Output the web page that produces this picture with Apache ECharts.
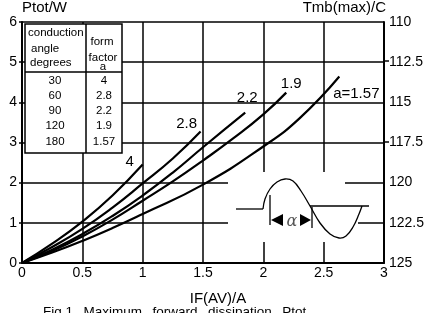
<!DOCTYPE html>
<html>
<head>
<meta charset="utf-8">
<script src="https://cdn.jsdelivr.net/npm/echarts@6/dist/echarts.min.js"></script>
<style>
html,body{margin:0;padding:0;background:#fff;}
#container{width:427px;height:313px;}
</style>
</head>
<body>
<div id="container"></div>
<script>
var dom = document.getElementById("container");
var myChart = echarts.init(dom);
var option;

var FONT = "'Liberation Sans', Arial, sans-serif";

// power curves, IF(AV) [A] vs Ptot [W], one per form factor
var curve4   = [[0,0],[0.25,0.48],[0.5,1.03],[0.75,1.68],[1.0,2.45]];
var curve2_8 = [[0,0],[0.25,0.4],[0.5,0.85],[0.75,1.38],[1.0,1.98],[1.25,2.6],[1.48,3.27]];
var curve2_2 = [[0,0],[0.25,0.33],[0.5,0.72],[0.75,1.17],[1.0,1.68],[1.25,2.25],[1.5,2.88],[1.85,3.74]];
var curve1_9 = [[0,0],[0.25,0.3],[0.5,0.66],[0.75,1.08],[1.0,1.55],[1.25,2.03],[1.5,2.55],[1.75,3.1],[2.0,3.7],[2.19,4.24]];
var curve1_57= [[0,0],[0.25,0.26],[0.5,0.55],[0.75,0.87],[1.0,1.22],[1.5,1.95],[2.0,2.9],[2.3,3.6],[2.63,4.64]];

var curveLabels = ['4', '2.8', '2.2', '1.9', 'a=1.57'];
var labelOffsets = [[-13,-3],[-14,-8],[2,-15],[5,-9],[17,17]];

// table of conduction angle / form factor
var conductionAngles = ['30','60','90','120','180'];
var formFactors = ['4','2.8','2.2','1.9','1.57'];

var captionWords = ['Fig.1', 'Maximum', 'forward', 'dissipation', 'Ptot'];

function curveSeries(data, idx) {
    return {
        type: 'line',
        data: data,
        smooth: true,
        showSymbol: false,
        silent: true,
        lineStyle: {color: '#000', width: 2.2},
        endLabel: {
            show: true,
            formatter: curveLabels[idx],
            distance: 0,
            align: 'center',
            verticalAlign: 'middle',
            offset: labelOffsets[idx],
            color: '#000',
            fontSize: 15,
            fontFamily: FONT
        }
    };
}

// table graphic
var tbl = [];
tbl.push({type:'rect', shape:{x:25,y:24,width:97,height:129}, style:{fill:'#fff',stroke:'#000',lineWidth:1.5}});
tbl.push({type:'line', shape:{x1:86,y1:24,x2:86,y2:153}, style:{stroke:'#000',lineWidth:1.5}});
tbl.push({type:'line', shape:{x1:25,y1:72,x2:122,y2:72}, style:{stroke:'#000',lineWidth:1.5}});
var hdrL = [['conduction',28,33],['angle',31,49],['degrees',30,63]];
hdrL.forEach(function(h){
    tbl.push({type:'text', style:{text:h[0], x:h[1], y:h[2], fill:'#000', font:'11.5px '+FONT, verticalAlign:'middle'}});
});
var hdrR = [['form',102,42],['factor',103,58],['a',103,67]];
hdrR.forEach(function(h){
    tbl.push({type:'text', style:{text:h[0], x:h[1], y:h[2], fill:'#000', font:'11.5px '+FONT, align:'center', verticalAlign:'middle'}});
});
var rowY = [81,96,111,126,142];
for (var i=0;i<conductionAngles.length;i++){
    tbl.push({type:'text', style:{text:conductionAngles[i], x:55, y:rowY[i], fill:'#000', font:'11.5px '+FONT, align:'center', verticalAlign:'middle'}});
    tbl.push({type:'text', style:{text:formFactors[i], x:104, y:rowY[i], fill:'#000', font:'11.5px '+FONT, align:'center', verticalAlign:'middle'}});
}

// waveform inset
var wave = [];
wave.push({type:'rect', shape:{x:228,y:172,width:117,height:70}, style:{fill:'#fff'}});
wave.push({type:'rect', shape:{x:340,y:214,width:18,height:14}, style:{fill:'#fff'}});
wave.push({type:'line', shape:{x1:236,y1:209,x2:263,y2:209}, style:{stroke:'#000',lineWidth:1.3}});
wave.push({type:'line', shape:{x1:310,y1:206,x2:369,y2:206}, style:{stroke:'#000',lineWidth:1.3}});
wave.push({type:'polyline', shape:{smooth:0.4, points:[[263,209],[265,199],[270,189],[277,182],[285,179],[293,181],[301,191],[310,206],[320,223],[330,234],[339,238],[346,236],[353,227],[359,214],[362,206]]}, style:{stroke:'#000',fill:null,lineWidth:1.3}});
wave.push({type:'line', shape:{x1:270,y1:195,x2:270,y2:225}, style:{stroke:'#000',lineWidth:1.3}});
wave.push({type:'line', shape:{x1:312,y1:207,x2:312,y2:228}, style:{stroke:'#000',lineWidth:1.3}});
wave.push({type:'polygon', shape:{points:[[271,220],[283,214],[283,226]]}, style:{fill:'#000'}});
wave.push({type:'polygon', shape:{points:[[311,220],[300,214],[300,226]]}, style:{fill:'#000'}});
wave.push({type:'text', style:{text:'\u03b1', x:292, y:222, fill:'#555', font:'italic 16px "DejaVu Serif", serif', align:'center', verticalAlign:'middle'}});

// right-side tick stubs at 112.5 / 117.5
var stubs = [
    {type:'line', shape:{x1:384,y1:61,x2:389,y2:61}, style:{stroke:'#000',lineWidth:1.5}},
    {type:'line', shape:{x1:384,y1:142,x2:389,y2:142}, style:{stroke:'#000',lineWidth:1.5}}
];

var graphics = tbl.concat(wave).concat(stubs).concat([
    {type:'text', style:{text:captionWords.join('\u2002 '), x:43, y:305, fill:'#000', font:'13.5px '+FONT}}
]);
graphics.forEach(function (g) { g.z = 100; });

option = {
    animation: false,
    backgroundColor: '#fff',
    textStyle: {fontFamily: FONT},
    grid: {left: 22, right: 43, top: 21, bottom: 50},
    xAxis: {
        type: 'value',
        min: 0, max: 3, interval: 0.5,
        name: 'IF(AV)/A',
        nameLocation: 'middle',
        nameGap: 28,
        nameTextStyle: {color: '#000', fontSize: 15, padding: [0,0,0,30]},
        axisLine: {lineStyle: {color: '#000', width: 2}},
        axisTick: {show: false},
        axisLabel: {color: '#000', fontSize: 14, margin: 3},
        splitLine: {lineStyle: {color: '#000', width: 1.5}}
    },
    yAxis: [{
        type: 'value',
        min: 0, max: 6, interval: 1,
        name: 'Ptot/W',
        nameLocation: 'end',
        nameGap: 3,
        nameTextStyle: {color: '#000', fontSize: 15, align: 'left', verticalAlign: 'bottom'},
        axisLine: {show: true, lineStyle: {color: '#000', width: 2}},
        axisTick: {show: true, length: 3, lineStyle: {color: '#000', width: 1.5}},
        axisLabel: {color: '#000', fontSize: 14, margin: 5},
        splitLine: {lineStyle: {color: '#000', width: 1.5}}
    }, {
        type: 'value',
        inverse: true,
        position: 'right',
        min: 110, max: 125, interval: 2.5,
        name: 'Tmb(max)/C',
        nameLocation: 'start',
        nameGap: 3,
        nameTextStyle: {color: '#000', fontSize: 15, align: 'right', verticalAlign: 'bottom', padding: [0,-2,0,0]},
        axisLine: {show: true, lineStyle: {color: '#000', width: 2}},
        axisTick: {show: false},
        axisLabel: {color: '#000', fontSize: 14, margin: 5},
        splitLine: {show: false}
    }],
    graphic: graphics,
    series: [
        curveSeries(curve4, 0),
        curveSeries(curve2_8, 1),
        curveSeries(curve2_2, 2),
        curveSeries(curve1_9, 3),
        curveSeries(curve1_57, 4)
    ]
};

myChart.setOption(option);
</script>
</body>
</html>
